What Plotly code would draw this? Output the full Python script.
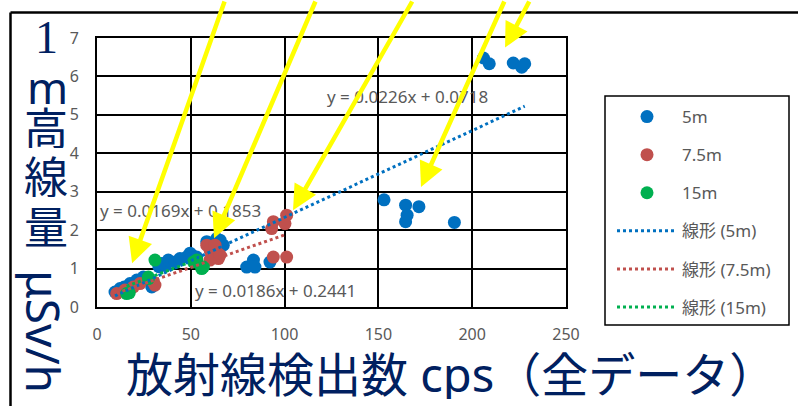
import plotly.graph_objects as go

# ---- measured data: detector count rate (cps) vs. 1 m dose rate (uSv/h) ----
x_5m = [9.6, 12.3, 14.5, 17.6, 21.2, 24.7, 29.2, 33.0, 34.5, 36.5, 38.0, 41.6, 44.2,
        47.8, 49.6, 50.5, 53.1, 58.5, 63.8, 65.6, 67.3, 79.8, 83.4, 84.2, 92.2,
        153.0, 164.5, 171.6, 165.3, 164.5, 190.5, 206.0, 209.1, 221.9, 226.4, 228.0]
y_5m = [0.39, 0.48, 0.52, 0.61, 0.70, 0.78, 0.52, 1.05, 1.13, 1.08, 1.22, 1.17, 1.26,
        1.30, 1.40, 1.35, 1.30, 1.70, 1.78, 1.74, 1.61, 1.04, 1.22, 1.04, 1.17,
        2.79, 2.65, 2.61, 2.39, 2.22, 2.20, 6.48, 6.33, 6.35, 6.24, 6.33]

x_75m = [10.5, 14.9, 19.4, 22.9, 30.0, 30.9, 58.5, 60.3, 61.1, 63.8, 64.7, 60.2, 65.6,
         62.9, 94.0, 101.1, 94.0, 101.1, 100.2, 93.1]
y_75m = [0.35, 0.44, 0.52, 0.61, 0.65, 0.57, 1.61, 1.48, 1.35, 1.43, 1.26, 1.22, 1.35,
         1.61, 1.30, 1.30, 2.22, 2.39, 2.17, 2.04]

x_15m = [15.8, 17.2, 27.4, 27.4, 30.9, 51.4, 53.1, 55.8, 56.7]
y_15m = [0.35, 0.37, 0.74, 0.78, 1.22, 1.17, 1.22, 1.00, 1.04]

# linear trendline coefficients (slope, intercept)
fit_5m = (0.0226, 0.0718)
fit_75m = (0.0169, 0.1853)
fit_15m = (0.0186, 0.2441)

x_ticks = [0, 50, 100, 150, 200, 250]
y_ticks = [0, 1, 2, 3, 4, 5, 6, 7]

series_names = ["5m", "7.5m", "15m"]
fit_names = ["線形 (5m)", "線形 (7.5m)", "線形 (15m)"]
colors = ["#0070C0", "#C0504D", "#00B050"]

# ---- page geometry (pixels) ----
W, H = 798, 406
L, R, T, B = 97, 566, 38, 307


def pxx(p):
    return (p - L) / (R - L)


def pxy(p):
    return (B - p) / (B - T)


NAVY = "#002060"
GRAY = "#595959"
FONT = "Noto Sans, Noto Sans CJK JP"

fig = go.Figure()

data = [(x_5m, y_5m), (x_75m, y_75m), (x_15m, y_15m)]
fits = [fit_5m, fit_75m, fit_15m]

for (xs, ys), name, c in zip(data, series_names, colors):
    fig.add_trace(go.Scatter(
        x=xs, y=ys, mode="markers", name=name, legendgroup=name,
        marker=dict(color=c, size=13, line=dict(width=0)),
    ))

for (xs, ys), (m, b), name, c in zip(data, fits, fit_names, colors):
    x0, x1 = min(xs), max(xs)
    fig.add_trace(go.Scatter(
        x=[x0, x1], y=[m * x0 + b, m * x1 + b], mode="lines", name=name,
        legendgroup=name, line=dict(color=c, width=3, dash="dot"),
    ))

annotations = []

# trendline equations
eq_pos = [(121.5, 5.47), (0.5, 2.50), (51.2, 0.44)]
for (m, b), (ex, ey) in zip(fits, eq_pos):
    annotations.append(dict(
        x=ex, y=ey, xref="x", yref="y", xanchor="left", yanchor="middle",
        text=f"y = {m:.4f}x + {b:.4f}", showarrow=False,
        font=dict(family=FONT, size=17, color=GRAY),
    ))

# yellow pointer arrows (tip in data units, tail offset in px)
arrows = [
    (18.7, 1.14, 93, -272),
    (62.4, 1.79, 102, -246),
    (104.5, 2.52, 120, -218),
    (172.7, 3.12, 84, -195),
    (217.5, 6.75, 25, -56),
]
for ax_, ay_, dx, dy in arrows:
    annotations.append(dict(
        x=ax_, y=ay_, xref="x", yref="y", ax=dx, ay=dy,
        axref="pixel", ayref="pixel", text="", showarrow=True,
        arrowcolor="#FFFF00", arrowwidth=4.5, arrowhead=2, arrowsize=1.1,
    ))

# vertical y-axis title: stacked characters then rotated unit
stack = [("1", 46, 37, "Liberation Serif", 46),
         ("m", 47, 86, FONT, 44),
         ("高", 46, 128, FONT, 44),
         ("線", 46, 176, FONT, 44),
         ("量", 46, 226, FONT, 44)]
for ch, cx, cy, fam, sz in stack:
    annotations.append(dict(
        x=pxx(cx), y=pxy(cy), xref="paper", yref="paper", text=ch,
        showarrow=False, xanchor="center", yanchor="middle",
        height=int(sz * 0.95), valign="middle",
        font=dict(family=fam, size=sz, color=NAVY),
    ))
annotations.append(dict(
    x=pxx(44), y=pxy(331), xref="paper", yref="paper", text="μSv/h",
    showarrow=False, textangle=90, xanchor="center", yanchor="middle",
    font=dict(family=FONT, size=46, color=NAVY),
))

# x-axis title
annotations.append(dict(
    x=pxx(124), y=pxy(374), xref="paper", yref="paper",
    text="放射線検出数 cps（全データ）", showarrow=False,
    xanchor="left", yanchor="middle", height=50, valign="middle",
    font=dict(family=FONT, size=47, color=NAVY),
))

shapes = [
    # outer frame (top and left edges)
    dict(type="line", xref="paper", yref="paper", x0=pxx(10.5), x1=pxx(800),
         y0=pxy(12.5), y1=pxy(12.5), line=dict(color="black", width=2.5), layer="above"),
    dict(type="line", xref="paper", yref="paper", x0=pxx(10.5), x1=pxx(10.5),
         y0=pxy(12.5), y1=pxy(410), line=dict(color="black", width=2.5), layer="above"),
    # legend box
    dict(type="rect", xref="paper", yref="paper", x0=pxx(605), x1=pxx(789),
         y0=pxy(96), y1=pxy(325), fillcolor="white",
         line=dict(color="black", width=1.5), layer="above"),
]

fig.update_layout(
    width=W, height=H,
    margin=dict(l=L, r=W - R, t=T, b=H - B),
    paper_bgcolor="white", plot_bgcolor="white",
    font=dict(family=FONT, color=GRAY),
    showlegend=True,
    legend=dict(
        x=pxx(612), y=pxy(99), xanchor="left", yanchor="top",
        bgcolor="rgba(0,0,0,0)", borderwidth=0,
        traceorder="grouped", tracegroupgap=13, itemwidth=60,
        font=dict(family=FONT, size=17, color=GRAY),
    ),
    annotations=annotations,
    shapes=shapes,
)

fig.update_xaxes(
    range=[0, 250], tickvals=x_ticks, showgrid=True, gridcolor="black", gridwidth=2,
    showline=True, mirror=True, linecolor="black", linewidth=2, zeroline=False,
    ticks="", ticklabelstandoff=12, tickfont=dict(family=FONT, size=16, color=GRAY),
)
fig.update_yaxes(
    range=[0, 7], tickvals=y_ticks, showgrid=True, gridcolor="black", gridwidth=2,
    showline=True, mirror=True, linecolor="black", linewidth=2, zeroline=False,
    ticks="", ticklabelstandoff=13, tickfont=dict(family=FONT, size=16, color=GRAY),
)

fig.write_html("out.html")
